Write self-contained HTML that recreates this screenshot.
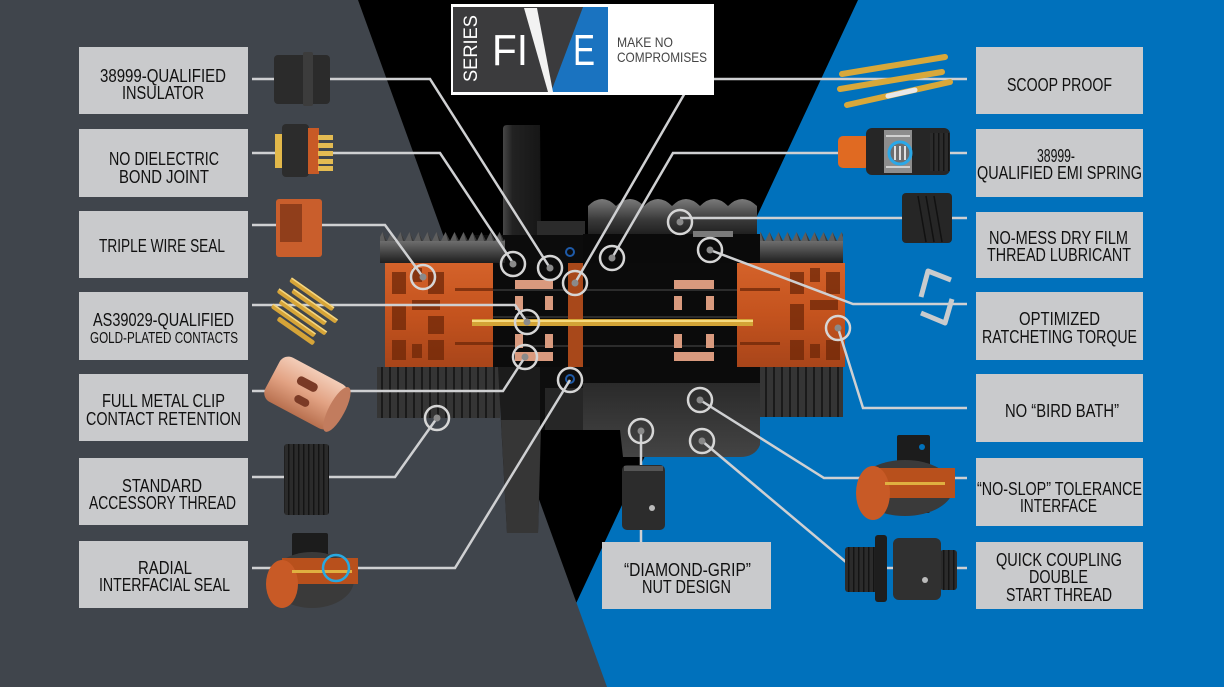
<!DOCTYPE html>
<html><head><meta charset="utf-8"><style>html,body{margin:0;padding:0;background:#000;}svg{display:block}</style></head>
<body>
<svg width="1224" height="687" viewBox="0 0 1224 687" xmlns="http://www.w3.org/2000/svg" font-family="'Liberation Sans', sans-serif">
<defs>
 <linearGradient id="gOr" x1="0" y1="0" x2="0" y2="1"><stop offset="0" stop-color="#d4622a"/><stop offset=".5" stop-color="#c4531e"/><stop offset="1" stop-color="#a8451a"/></linearGradient>
 <linearGradient id="gThr" x1="0" y1="0" x2="0" y2="1"><stop offset="0" stop-color="#6e6e6e"/><stop offset="1" stop-color="#1e1e1e"/></linearGradient>
 <linearGradient id="gNut" x1="0" y1="0" x2="0" y2="1"><stop offset="0" stop-color="#7a7a7a"/><stop offset=".5" stop-color="#3a3a3a"/><stop offset="1" stop-color="#151515"/></linearGradient>
 <linearGradient id="gNutB" x1="0" y1="0" x2="0" y2="1"><stop offset="0" stop-color="#2a2a2a"/><stop offset="1" stop-color="#444"/></linearGradient>
 <linearGradient id="gCu" x1="0" y1="0" x2="0" y2="1"><stop offset="0" stop-color="#f3cdb8"/><stop offset=".5" stop-color="#e2a283"/><stop offset="1" stop-color="#b8704f"/></linearGradient>
 <linearGradient id="gFl" x1="0" y1="0" x2="1" y2="0"><stop offset="0" stop-color="#474747"/><stop offset=".25" stop-color="#222"/><stop offset="1" stop-color="#161616"/></linearGradient>
 <pattern id="pTeeth" x="0" y="232" width="9" height="9" patternUnits="userSpaceOnUse"><path d="M0,9 L4.5,0 L9,9Z" fill="#5e5e5e"/><path d="M4.5,0 L9,9 L7,9Z" fill="#3a3a3a"/></pattern>
 <pattern id="pRib" x="0" y="0" width="8" height="10" patternUnits="userSpaceOnUse"><rect width="8" height="10" fill="#353535"/><rect x="5" width="2" height="10" fill="#1a1a1a"/></pattern>
 <pattern id="pRib2" x="0" y="0" width="5" height="10" patternUnits="userSpaceOnUse"><rect width="5" height="10" fill="#2b2b2b"/><rect x="3" width="1.5" height="10" fill="#141414"/></pattern>
</defs>

<!-- backgrounds -->
<rect width="1224" height="687" fill="#000"/>
<polygon points="858,0 1224,0 1224,687 537,687" fill="#0071bc"/>
<polygon points="0,0 358,0 607,687 0,687" fill="#40454c"/>

<!-- central connector -->
<path d="M503,129 Q503,125 507,125 L540,125 L541,236 L503,236 Z" fill="url(#gFl)"/>
<rect x="537" y="221" width="48" height="15" fill="#2b2b2b"/>
<rect x="470" y="235" width="120" height="28" fill="#0c0c0c"/>
<rect x="380" y="241" width="125" height="22" fill="url(#gThr)"/>
<rect x="380" y="232" width="125" height="9" fill="url(#pTeeth)"/>
<path d="M588,206 q14,-14 28,0 q14,-14 28,0 q14,-14 28,0 q14,-14 28,0 q14,-14 28,0 q14,-14 29,0 L757,240 L588,240Z" fill="url(#gNut)"/>
<rect x="583" y="234" width="177" height="29" fill="#0a0a0a"/>
<rect x="693" y="231" width="40" height="6" fill="#7a7a7a"/>
<rect x="760" y="241" width="83" height="22" fill="url(#gThr)"/>
<rect x="760" y="232" width="83" height="9" fill="url(#pTeeth)"/>

<!-- middle band -->
<rect x="385" y="263" width="108" height="104" fill="url(#gOr)"/>
<g fill="#6e2708" opacity=".75">
 <rect x="392" y="272" width="14" height="22"/><rect x="412" y="268" width="10" height="14"/><rect x="428" y="272" width="16" height="22"/>
 <rect x="392" y="304" width="14" height="26"/><rect x="412" y="300" width="28" height="10"/><rect x="428" y="316" width="16" height="18"/>
 <rect x="392" y="340" width="14" height="20"/><rect x="412" y="344" width="10" height="14"/><rect x="428" y="340" width="16" height="20"/>
 <rect x="455" y="288" width="38" height="3"/><rect x="455" y="342" width="38" height="3"/>
</g>
<rect x="493" y="263" width="244" height="104" fill="#0b0b0b"/>
<g fill="#2c2c2c"><rect x="493" y="289" width="244" height="2"/><rect x="493" y="316" width="244" height="2"/><rect x="493" y="345" width="244" height="2"/></g>
<g fill="#d99a7e">
 <rect x="515" y="280" width="38" height="9"/><rect x="515" y="296" width="8" height="14"/><rect x="545" y="296" width="8" height="14"/>
 <rect x="515" y="334" width="8" height="14"/><rect x="545" y="334" width="8" height="14"/><rect x="515" y="352" width="38" height="9"/>
 <rect x="674" y="280" width="40" height="9"/><rect x="674" y="296" width="8" height="14"/><rect x="706" y="296" width="8" height="14"/>
 <rect x="674" y="334" width="8" height="14"/><rect x="706" y="334" width="8" height="14"/><rect x="674" y="352" width="40" height="9"/>
</g>
<rect x="568" y="263" width="15" height="104" fill="#a8481a"/>
<rect x="737" y="263" width="108" height="104" fill="url(#gOr)"/>
<g fill="#6e2708" opacity=".75">
 <rect x="790" y="272" width="14" height="22"/><rect x="810" y="268" width="10" height="14"/><rect x="826" y="272" width="14" height="22"/>
 <rect x="790" y="304" width="14" height="26"/><rect x="810" y="300" width="28" height="10"/><rect x="790" y="340" width="14" height="20"/>
 <rect x="810" y="344" width="10" height="14"/><rect x="826" y="340" width="14" height="20"/>
 <rect x="740" y="288" width="40" height="3"/><rect x="740" y="342" width="40" height="3"/>
</g>
<rect x="472" y="319" width="281" height="7" fill="#d3a436"/>
<rect x="472" y="320" width="281" height="2" fill="#f5da7e"/>

<!-- bottom -->
<rect x="377" y="367" width="123" height="51" fill="url(#pRib)"/>
<rect x="500" y="367" width="260" height="16" fill="#0b0b0b"/>
<path d="M498,367 L543,367 L538,533 L507,533 Z" fill="#1c1c1c"/>
<path d="M501,420 L541,420 L538,533 L507,533 Z" fill="#363636"/>
<rect x="540" y="367" width="50" height="63" fill="#0e0e0e"/>
<rect x="545" y="388" width="40" height="42" fill="#262626"/>
<path d="M583,383 L760,383 L760,445 Q755,457 740,457 L623,457 L620,430 L583,430 Z" fill="url(#gNutB)"/>
<rect x="760" y="367" width="83" height="50" fill="url(#pRib)"/>

<!-- small blue markers -->
<circle cx="570" cy="252" r="4" fill="none" stroke="#1e5aa8" stroke-width="2"/>
<circle cx="570" cy="379" r="4" fill="none" stroke="#1e5aa8" stroke-width="2"/>

<!-- connector lines -->
<g fill="none" stroke="#cfd0d2" stroke-width="2.5">
 <polyline points="252,79 430,79 550,268"/>
 <polyline points="252,153 440,153 513,263"/>
 <polyline points="252,225 385,225 423,277"/>
 <polyline points="252,305 515,305 527,322"/>
 <polyline points="252,391 503,391 525,357"/>
 <polyline points="252,477 395,477 437,418"/>
 <polyline points="252,568 455,568 570,380"/>
 <polyline points="967,79 693,79 575,283"/>
 <polyline points="967,153 673,153 612,258"/>
 <polyline points="967,218 680,218"/>
 <polyline points="967,304 853,304 710,250"/>
 <polyline points="967,408 863,408 838,328"/>
 <polyline points="967,478 824,478 700,400"/>
 <polyline points="967,568 853,568 702,441"/>
 <polyline points="641,431 641,542"/>
</g>
<!-- diamond grip nut -->
<rect x="622" y="465" width="43" height="65" rx="5" fill="#2c2c2c"/>
<rect x="624" y="466" width="39" height="5" fill="#555"/>
<circle cx="652" cy="508" r="3" fill="#bbb"/>

<!-- left product images -->
<rect x="274" y="55" width="56" height="49" rx="4" fill="#2b2b2b"/>
<rect x="303" y="52" width="10" height="54" rx="2" fill="#3c3c3c"/>

<g fill="#e2b84a"><rect x="275" y="134" width="9" height="34"/></g>
<rect x="282" y="124" width="27" height="53" rx="4" fill="#2c2c2c"/>
<rect x="308" y="128" width="11" height="46" fill="#c85a26"/>
<g fill="#e4bb52"><rect x="318" y="135" width="15" height="5"/><rect x="318" y="143" width="15" height="5"/><rect x="318" y="151" width="15" height="5"/><rect x="318" y="159" width="15" height="5"/><rect x="318" y="166" width="15" height="5"/></g>

<rect x="276" y="199" width="46" height="58" rx="3" fill="#c95e2c"/>
<rect x="280" y="204" width="22" height="38" fill="#6a2a10" opacity=".6"/>

<g transform="translate(305,311) rotate(35)">
 <g fill="#d6a438">
  <rect x="-30" y="-20" width="52" height="5" rx="2"/><rect x="-22" y="-12" width="54" height="5" rx="2"/>
  <rect x="-34" y="-4" width="58" height="5" rx="2"/><rect x="-26" y="4" width="56" height="5" rx="2"/>
  <rect x="-30" y="12" width="52" height="5" rx="2"/><rect x="-18" y="19" width="44" height="5" rx="2"/>
 </g>
 <g fill="#f5d680"><rect x="-30" y="-20" width="52" height="1.5"/><rect x="-22" y="-12" width="54" height="1.5"/><rect x="-34" y="-4" width="58" height="1.5"/><rect x="-26" y="4" width="56" height="1.5"/><rect x="-30" y="12" width="52" height="1.5"/></g>
</g>

<g transform="translate(306,393) rotate(28)">
 <rect x="-38" y="-25" width="76" height="50" rx="10" fill="url(#gCu)"/>
 <ellipse cx="35" cy="0" rx="8" ry="25" fill="#c27c5e"/>
 <rect x="-14" y="-13" width="22" height="9" rx="4" fill="#7a3a26"/>
 <rect x="-8" y="5" width="16" height="8" rx="4" fill="#7a3a26"/>
</g>

<rect x="284" y="444" width="45" height="71" rx="3" fill="url(#pRib2)"/>

<rect x="292" y="533" width="36" height="70" rx="2" fill="#1c1c1c"/>
<ellipse cx="312" cy="580" rx="42" ry="28" fill="#3a3a3a"/>
<rect x="282" y="558" width="76" height="26" fill="#b8501c"/>
<ellipse cx="282" cy="584" rx="16" ry="24" fill="#c85a26"/>
<rect x="292" y="570" width="60" height="3" fill="#e0b040"/>
<circle cx="336" cy="568" r="13" fill="none" stroke="#29a8e0" stroke-width="2.5"/>

<!-- right product images -->
<g stroke-linecap="round" fill="none">
 <line x1="842" y1="74" x2="945" y2="57" stroke="#d8a83a" stroke-width="6"/>
 <line x1="840" y1="89" x2="942" y2="72" stroke="#d8a83a" stroke-width="6"/>
 <line x1="847" y1="105" x2="950" y2="82" stroke="#d8a83a" stroke-width="6"/>
 <line x1="888" y1="96" x2="915" y2="90" stroke="#e8e8e8" stroke-width="5"/>
</g>

<rect x="838" y="136" width="32" height="32" rx="5" fill="#e06a22"/>
<rect x="866" y="128" width="84" height="47" rx="6" fill="#262626"/>
<rect x="884" y="130" width="28" height="43" fill="#8d8d8d"/>
<g fill="#d0d0d0"><rect x="886" y="135" width="24" height="2"/><rect x="886" y="166" width="24" height="2"/></g>
<circle cx="900" cy="153" r="11" fill="#6e6e6e" stroke="#2aa8e8" stroke-width="3"/>
<g fill="#e0e0e0"><rect x="894" y="146" width="2" height="14"/><rect x="899" y="146" width="2" height="14"/><rect x="904" y="146" width="2" height="14"/></g>
<rect x="930" y="133" width="20" height="38" fill="url(#pRib2)"/>

<rect x="902" y="193" width="50" height="50" rx="4" fill="#262626"/>
<g stroke="#111" stroke-width="1.5"><line x1="918" y1="196" x2="926" y2="242"/><line x1="926" y1="196" x2="934" y2="242"/><line x1="934" y1="196" x2="942" y2="242"/></g>

<g fill="none" stroke="#c9cbcd" stroke-width="5" stroke-linejoin="round">
 <polyline points="921,297 928,271 951,280"/>
 <polyline points="952,299 945,323 921,313"/>
</g>

<rect x="897" y="435" width="33" height="78" rx="2" fill="#1c1c1c"/>
<circle cx="922" cy="447" r="3" fill="#0071bc"/>
<ellipse cx="905" cy="488" rx="48" ry="28" fill="#3a3a3a"/>
<rect x="873" y="468" width="82" height="30" fill="#b8501c"/>
<ellipse cx="873" cy="493" rx="17" ry="27" fill="#c85a26"/>
<rect x="885" y="482" width="60" height="3" fill="#e0b040"/>

<rect x="845" y="547" width="40" height="45" rx="3" fill="url(#pRib2)"/>
<rect x="875" y="535" width="12" height="67" rx="3" fill="#1e1e1e"/>
<rect x="940" y="550" width="17" height="40" rx="3" fill="url(#pRib2)"/>
<rect x="893" y="538" width="48" height="62" rx="6" fill="#303030"/>
<circle cx="925" cy="580" r="3" fill="#bbb"/>

<!-- circles -->
<g fill="none" stroke="#d6d6d6" stroke-width="2.5">
 <circle cx="423" cy="277" r="12"/><circle cx="513" cy="264" r="12"/><circle cx="550" cy="268" r="12"/>
 <circle cx="575" cy="283" r="12"/><circle cx="612" cy="258" r="12"/><circle cx="680" cy="222" r="12"/>
 <circle cx="710" cy="250" r="12"/><circle cx="527" cy="322" r="12"/><circle cx="525" cy="357" r="12"/>
 <circle cx="570" cy="380" r="12"/><circle cx="437" cy="418" r="12"/><circle cx="838" cy="328" r="12"/>
 <circle cx="700" cy="400" r="12"/><circle cx="702" cy="441" r="12"/><circle cx="641" cy="431" r="12"/>
</g>
<g fill="#8a8a8a">
 <circle cx="423" cy="277" r="3.5"/><circle cx="513" cy="264" r="3.5"/><circle cx="550" cy="268" r="3.5"/>
 <circle cx="575" cy="283" r="3.5"/><circle cx="612" cy="258" r="3.5"/><circle cx="680" cy="222" r="3.5"/>
 <circle cx="710" cy="250" r="3.5"/><circle cx="527" cy="322" r="3.5"/><circle cx="525" cy="357" r="3.5"/>
 <circle cx="437" cy="418" r="3.5"/><circle cx="838" cy="328" r="3.5"/>
 <circle cx="700" cy="400" r="3.5"/><circle cx="702" cy="441" r="3.5"/><circle cx="641" cy="431" r="3.5"/>
</g>

<!-- logo -->
<rect x="451" y="4" width="263" height="91" fill="#fff"/>
<rect x="453" y="7" width="155" height="85" fill="#3b3b3d"/>
<polygon points="583,7 608,7 608,92 551,92" fill="#1a73c0"/>
<polygon points="524,8 537,8 553,92 548,92" fill="#f2f2f2"/>
<text transform="translate(477,48.5) rotate(-90)" text-anchor="middle" font-size="19" fill="#fff" textLength="67" lengthAdjust="spacingAndGlyphs">SERIES</text>
<text x="492" y="65" font-size="44" fill="#fff" textLength="36" lengthAdjust="spacingAndGlyphs">FI</text>
<text x="573" y="65" font-size="44" fill="#fff" textLength="22" lengthAdjust="spacingAndGlyphs">E</text>
<text x="617" y="47" font-size="14" fill="#444" textLength="56" lengthAdjust="spacingAndGlyphs">MAKE NO</text>
<text x="617" y="62" font-size="14" fill="#444" textLength="90" lengthAdjust="spacingAndGlyphs">COMPROMISES</text>

<!-- label boxes -->
<g fill="#c9cacc">
 <rect x="79" y="47" width="169" height="67"/><rect x="79" y="129" width="169" height="68"/><rect x="79" y="211" width="169" height="67"/>
 <rect x="79" y="292" width="169" height="68"/><rect x="79" y="374" width="169" height="67"/><rect x="79" y="458" width="169" height="67"/>
 <rect x="79" y="541" width="169" height="67"/>
 <rect x="976" y="47" width="167" height="67"/><rect x="976" y="129" width="167" height="68"/><rect x="976" y="212" width="167" height="66"/>
 <rect x="976" y="292" width="167" height="68"/><rect x="976" y="374" width="167" height="68"/><rect x="976" y="458" width="167" height="68"/>
 <rect x="976" y="542" width="167" height="67"/>
 <rect x="602" y="542" width="169" height="67"/>
</g>
<g font-size="18" fill="#111" text-anchor="middle">
 <text x="163" y="82" textLength="126" lengthAdjust="spacingAndGlyphs">38999-QUALIFIED</text>
 <text x="163" y="99" textLength="82" lengthAdjust="spacingAndGlyphs">INSULATOR</text>
 <text x="164" y="165" textLength="110" lengthAdjust="spacingAndGlyphs">NO DIELECTRIC</text>
 <text x="164" y="183" textLength="90" lengthAdjust="spacingAndGlyphs">BOND JOINT</text>
 <text x="162" y="252" textLength="126" lengthAdjust="spacingAndGlyphs">TRIPLE WIRE SEAL</text>
 <text x="163.5" y="326" textLength="141" lengthAdjust="spacingAndGlyphs">AS39029-QUALIFIED</text>
 <text x="164" y="343" font-size="16" textLength="148" lengthAdjust="spacingAndGlyphs">GOLD-PLATED CONTACTS</text>
 <text x="163.5" y="407" textLength="123" lengthAdjust="spacingAndGlyphs">FULL METAL CLIP</text>
 <text x="163.5" y="425" textLength="155" lengthAdjust="spacingAndGlyphs">CONTACT RETENTION</text>
 <text x="162" y="492" textLength="80" lengthAdjust="spacingAndGlyphs">STANDARD</text>
 <text x="162.5" y="509" textLength="147" lengthAdjust="spacingAndGlyphs">ACCESSORY THREAD</text>
 <text x="165" y="574" textLength="54" lengthAdjust="spacingAndGlyphs">RADIAL</text>
 <text x="164.5" y="591" textLength="131" lengthAdjust="spacingAndGlyphs">INTERFACIAL SEAL</text>

 <text x="1059.5" y="91" textLength="105" lengthAdjust="spacingAndGlyphs">SCOOP PROOF</text>
 <text x="1056" y="162" textLength="38" lengthAdjust="spacingAndGlyphs">38999-</text>
 <text x="1059.5" y="179" textLength="165" lengthAdjust="spacingAndGlyphs">QUALIFIED EMI SPRING</text>
 <text x="1058.5" y="244" textLength="139" lengthAdjust="spacingAndGlyphs">NO-MESS DRY FILM</text>
 <text x="1059" y="261" textLength="144" lengthAdjust="spacingAndGlyphs">THREAD LUBRICANT</text>
 <text x="1059.5" y="325" textLength="81" lengthAdjust="spacingAndGlyphs">OPTIMIZED</text>
 <text x="1059.5" y="343" textLength="155" lengthAdjust="spacingAndGlyphs">RATCHETING TORQUE</text>
 <text x="1062" y="417" textLength="114" lengthAdjust="spacingAndGlyphs">NO “BIRD BATH”</text>
 <text x="1059.5" y="495" textLength="165" lengthAdjust="spacingAndGlyphs">“NO-SLOP” TOLERANCE</text>
 <text x="1058.5" y="512" textLength="77" lengthAdjust="spacingAndGlyphs">INTERFACE</text>
 <text x="1059" y="566" textLength="126" lengthAdjust="spacingAndGlyphs">QUICK COUPLING</text>
 <text x="1058.5" y="583" textLength="59" lengthAdjust="spacingAndGlyphs">DOUBLE</text>
 <text x="1059" y="601" textLength="106" lengthAdjust="spacingAndGlyphs">START THREAD</text>

 <text x="687.5" y="576" textLength="127" lengthAdjust="spacingAndGlyphs">“DIAMOND-GRIP”</text>
 <text x="686.5" y="593" textLength="89" lengthAdjust="spacingAndGlyphs">NUT DESIGN</text>
</g>
</svg>
</body></html>
